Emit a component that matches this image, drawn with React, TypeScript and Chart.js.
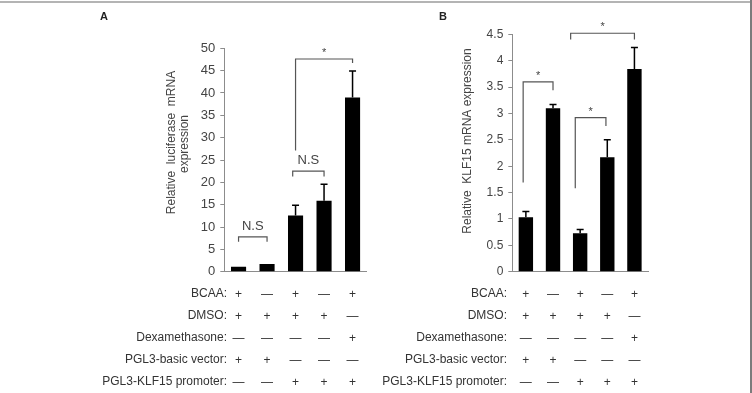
import { useEffect, useRef } from 'react';
import { Chart, registerables } from 'chart.js';

Chart.register(...registerables);

// Treatment conditions for the five samples (shared by both panels)
const rowNames = ['BCAA:', 'DMSO:', 'Dexamethasone:', 'PGL3-basic vector:', 'PGL3-KLF15 promoter:'];
const bcaa = ['+', '—', '+', '—', '+'];
const dmso = ['+', '+', '+', '+', '—'];
const dexamethasone = ['—', '—', '—', '—', '+'];
const basicVector = ['+', '+', '—', '—', '—'];
const klf15Promoter = ['—', '—', '+', '+', '+'];

// Panel A: relative luciferase mRNA expression
const luciferaseMeans = [1.1, 1.7, 12.6, 15.9, 39.0];
const luciferaseErrors = [0, 0, 2.3, 3.7, 5.9];
const luciferaseTicks = [0, 5, 10, 15, 20, 25, 30, 35, 40, 45, 50];

// Panel B: relative KLF15 mRNA expression
const klf15Means = [1.03, 3.1, 0.73, 2.17, 3.84];
const klf15Errors = [0.11, 0.07, 0.07, 0.33, 0.41];
const klf15Ticks = [0, 0.5, 1, 1.5, 2, 2.5, 3, 3.5, 4, 4.5];

// Significance brackets: [from index, to index, bar height, left leg end, right leg end, label]
type Bracket = [number, number, number, number, number, string];
const luciferaseBrackets: Bracket[] = [
  [0, 1, 7.8, 6.7, 6.7, 'N.S'],
  [1.9, 3, 22.5, 21.3, 21.3, 'N.S'],
  [2, 4, 47.6, 27.1, 46.7, '*'],
];
const klf15Brackets: Bracket[] = [
  [-0.1, 1, 3.6, 1.69, 3.44, '*'],
  [1.82, 2.95, 2.92, 1.58, 2.76, '*'],
  [1.65, 4, 4.52, 4.4, 4.4, '*'],
];

const FONT = '"Liberation Sans", Arial, Helvetica, sans-serif';
const ROW_H = 22;
const ROW_PAD = 10.6;
const TICK_PAD = 3.6;
const CANVAS_H = 393;

type PanelProps = {
  left: number;
  width: number;
  means: number[];
  errors: number[];
  ticks: number[];
  brackets: Bracket[];
  titleLines: { text: string; x: number; y: number }[];
  plotLeft: number;
  plotRight: number;
  plotTop: number;
  plotBottom: number;
  rowLabelRight: number;
  tickFontSize: number;
  bracketFontSize: (label: string) => number;
};

function Panel(p: PanelProps) {
  const ref = useRef<HTMLCanvasElement>(null);

  useEffect(() => {
    const canvas = ref.current;
    if (!canvas) return;

    const labels = bcaa.map((_, i) => [
      bcaa[i],
      dmso[i],
      dexamethasone[i],
      basicVector[i],
      klf15Promoter[i],
    ]);

    const overlay = {
      id: 'overlay',
      afterDraw(chart: Chart) {
        const ctx = chart.ctx;
        const x = chart.scales.x;
        const y = chart.scales.y;
        const meta = chart.getDatasetMeta(0);
        ctx.save();

        // error bars (upper half only)
        ctx.strokeStyle = '#000';
        ctx.lineWidth = 1.5;
        p.means.forEach((m, i) => {
          const err = p.errors[i];
          if (!err) return;
          const bx = (meta.data[i] as any).x;
          const y0 = y.getPixelForValue(m);
          const y1 = y.getPixelForValue(m + err);
          ctx.beginPath();
          ctx.moveTo(bx, y0);
          ctx.lineTo(bx, y1);
          ctx.moveTo(bx - 3.5, y1);
          ctx.lineTo(bx + 3.5, y1);
          ctx.stroke();
        });

        // significance brackets
        ctx.strokeStyle = '#555';
        ctx.lineWidth = 1.2;
        ctx.fillStyle = '#444';
        ctx.textAlign = 'center';
        ctx.textBaseline = 'alphabetic';
        p.brackets.forEach(([a, b, h, la, lb, label]) => {
          const xa = x.getPixelForValue(a);
          const xb = x.getPixelForValue(b);
          const yh = y.getPixelForValue(h);
          ctx.beginPath();
          ctx.moveTo(xa, y.getPixelForValue(la));
          ctx.lineTo(xa, yh);
          ctx.lineTo(xb, yh);
          ctx.lineTo(xb, y.getPixelForValue(lb));
          ctx.stroke();
          ctx.font = `${p.bracketFontSize(label)}px ${FONT}`;
          ctx.fillText(label, (xa + xb) / 2, yh - (label === '*' ? 3 : 7));
        });

        // treatment row names, level with the multi-line x tick labels
        ctx.font = `12px ${FONT}`;
        ctx.fillStyle = '#333';
        ctx.textAlign = 'right';
        ctx.textBaseline = 'middle';
        rowNames.forEach((name, r) => {
          ctx.fillText(name, p.rowLabelRight, x.top + ROW_PAD + ROW_H * (r + 0.5));
        });

        // rotated y-axis title
        ctx.fillStyle = '#444';
        ctx.textAlign = 'center';
        ctx.textBaseline = 'middle';
        p.titleLines.forEach((t) => {
          ctx.save();
          ctx.translate(t.x, t.y);
          ctx.rotate(-Math.PI / 2);
          ctx.fillText(t.text, 0, 0);
          ctx.restore();
        });

        ctx.restore();
      },
    };

    const chart = new Chart(canvas, {
      type: 'bar',
      data: {
        labels,
        datasets: [
          {
            data: p.means,
            backgroundColor: '#000',
            borderWidth: 0,
            barPercentage: 0.53,
            categoryPercentage: 1,
          },
        ],
      },
      options: {
        responsive: false,
        animation: false,
        devicePixelRatio: 1,
        layout: {
          padding: {
            left: 0,
            top: p.plotTop,
            right: p.width - p.plotRight,
            bottom: 0,
          },
        },
        plugins: {
          legend: { display: false },
          tooltip: { enabled: false },
        },
        scales: {
          x: {
            grid: { display: false },
            border: { display: true, color: '#8c8c8c', width: 1 },
            ticks: {
              autoSkip: false,
              maxRotation: 0,
              minRotation: 0,
              padding: TICK_PAD,
              color: '#333',
              font: { family: FONT, size: 12, lineHeight: `${ROW_H}px` },
            },
            afterFit: (scale: any) => {
              scale.height = CANVAS_H - p.plotBottom;
            },
          },
          y: {
            min: p.ticks[0],
            max: p.ticks[p.ticks.length - 1],
            grid: {
              display: true,
              drawOnChartArea: false,
              drawTicks: true,
              tickLength: 4,
              color: '#8c8c8c',
            },
            border: { display: true, color: '#8c8c8c', width: 1 },
            ticks: {
              padding: 5,
              color: '#444',
              font: { family: FONT, size: p.tickFontSize },
              callback: (v: any) => String(Math.round(Number(v) * 100) / 100),
            },
            afterBuildTicks: (scale: any) => {
              scale.ticks = p.ticks.map((v) => ({ value: v }));
            },
            afterFit: (scale: any) => {
              scale.width = p.plotLeft;
            },
          },
        },
      },
      plugins: [overlay],
    });

    return () => chart.destroy();
  }, []);

  return (
    <canvas
      ref={ref}
      width={p.width}
      height={CANVAS_H}
      style={{ position: 'absolute', left: p.left, top: 0, width: p.width, height: CANVAS_H }}
    />
  );
}

export default function App() {
  const tag = {
    position: 'absolute' as const,
    top: 10,
    fontFamily: FONT,
    fontWeight: 'bold' as const,
    fontSize: 11,
    color: '#222',
  };
  return (
    <div
      style={{
        position: 'fixed',
        left: 0,
        top: 0,
        width: 752,
        height: 393,
        background: '#fff',
        overflow: 'hidden',
      }}
    >
      <Panel
        left={0}
        width={376}
        means={luciferaseMeans}
        errors={luciferaseErrors}
        ticks={luciferaseTicks}
        brackets={luciferaseBrackets}
        titleLines={[
          { text: 'Relative  luciferase  mRNA', x: 171.5, y: 142.5 },
          { text: 'expression', x: 185, y: 144 },
        ]}
        plotLeft={224.3}
        plotRight={366.8}
        plotTop={48.3}
        plotBottom={271.7}
        rowLabelRight={227}
        tickFontSize={13}
        bracketFontSize={(l) => (l === '*' ? 11 : 13)}
      />
      <Panel
        left={376}
        width={376}
        means={klf15Means}
        errors={klf15Errors}
        ticks={klf15Ticks}
        brackets={klf15Brackets}
        titleLines={[{ text: 'Relative  KLF15 mRNA expression', x: 92, y: 141 }]}
        plotLeft={136.3}
        plotRight={272}
        plotTop={34.3}
        plotBottom={271.7}
        rowLabelRight={131}
        tickFontSize={12}
        bracketFontSize={() => 11}
      />
      <div style={{ ...tag, left: 100 }}>A</div>
      <div style={{ ...tag, left: 439 }}>B</div>
      <div style={{ position: 'absolute', left: 0, top: 1, width: 752, height: 2, background: '#b4b4b4' }} />
      <div style={{ position: 'absolute', left: 750, top: 0, width: 2, height: 393, background: '#7c7c7c' }} />
    </div>
  );
}
